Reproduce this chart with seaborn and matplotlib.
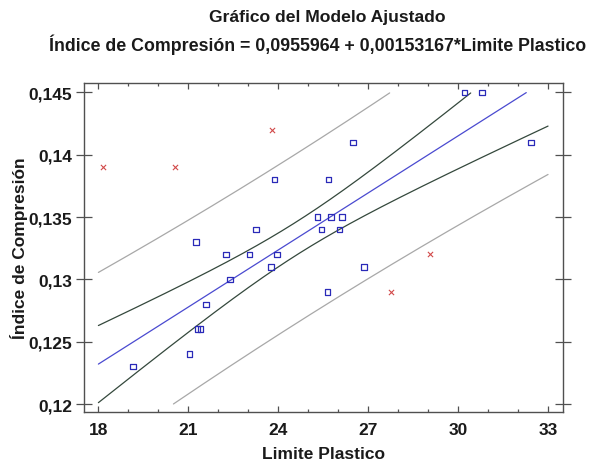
import numpy as np
import pandas as pd
import matplotlib
matplotlib.use("Agg")
import matplotlib.pyplot as plt
import seaborn as sns
from matplotlib.ticker import MultipleLocator, FixedLocator, FixedFormatter

# ---- data ----
limite_plastico = [19.15, 21.04, 21.30, 21.40, 21.59, 21.26, 22.26, 22.39, 23.04, 23.26,
                   23.76, 23.95, 23.87, 25.31, 25.45, 25.65, 25.67, 25.76, 26.04, 26.12,
                   26.49, 26.87, 30.21, 30.79, 32.43]
indice_compresion = [0.123, 0.124, 0.126, 0.126, 0.128, 0.133, 0.132, 0.130, 0.132, 0.134,
                     0.131, 0.132, 0.138, 0.135, 0.134, 0.129, 0.138, 0.135, 0.134, 0.135,
                     0.141, 0.131, 0.145, 0.145, 0.141]
# points excluded from the fit (red crosses)
excl_limite = [18.16, 20.56, 23.79, 27.76, 29.06]
excl_indice = [0.139, 0.139, 0.142, 0.129, 0.132]

x_ticks = [18, 21, 24, 27, 30, 33]
y_ticks = [0.12, 0.125, 0.13, 0.135, 0.14, 0.145]
y_tick_labels = ["0,12", "0,125", "0,13", "0,135", "0,14", "0,145"]
T_CRIT = 2.069  # t(0.975, n-2 = 23)

title_1 = "Gráfico del Modelo Ajustado"
title_2 = "Índice de Compresión = 0,0955964 + 0,00153167*Limite Plastico"

# ---- fit and bands ----
xd = np.array(limite_plastico)
yd = np.array(indice_compresion)
n = len(xd)
slope, intercept = np.polyfit(xd, yd, 1)
resid = yd - (intercept + slope * xd)
s = np.sqrt(np.sum(resid ** 2) / (n - 2))
xbar = xd.mean()
sxx = np.sum((xd - xbar) ** 2)

xg = np.linspace(x_ticks[0], x_ticks[-1], 600)
fit = intercept + slope * xg
conf = T_CRIT * s * np.sqrt(1 / n + (xg - xbar) ** 2 / sxx)
pred = T_CRIT * s * np.sqrt(1 + 1 / n + (xg - xbar) ** 2 / sxx)

ylo, yhi = y_ticks[0], y_ticks[-1]
def clip(v):
    v = v.copy()
    v[(v < ylo - 1e-9) | (v > yhi + 1e-9)] = np.nan
    return v

sns.set_style("ticks")
plt.rcParams['font.family'] = ['Liberation Sans', 'DejaVu Sans']
plt.rcParams['font.weight'] = 'bold'

fig = plt.figure(figsize=(6.03, 4.64), dpi=100)
ax = fig.add_axes([0.1393, 0.1099, 0.9332 - 0.1393, 0.819 - 0.1099])

ax.plot(xg, clip(fit + pred), color="#a8a8a8", lw=0.9)
ax.plot(xg, clip(fit - pred), color="#a8a8a8", lw=0.9)
ax.plot(xg, clip(fit + conf), color="#34483c", lw=0.9)
ax.plot(xg, clip(fit - conf), color="#34483c", lw=0.9)
ax.plot(xg, clip(fit), color="#4a4ad0", lw=0.9)

df = pd.DataFrame({"x": limite_plastico, "y": indice_compresion})
sns.scatterplot(data=df, x="x", y="y", marker="s", s=16, facecolors="none",
                edgecolor="#2a2ab8", linewidth=0.9, ax=ax, zorder=5)
dfe = pd.DataFrame({"x": excl_limite, "y": excl_indice})
sns.scatterplot(data=dfe, x="x", y="y", marker="x", s=14, color="#d24a4a",
                linewidth=0.8, ax=ax, zorder=5)

ax.set_xlim(17.52, 33.49)
ax.set_ylim(0.11936, 0.14576)
ax.xaxis.set_major_locator(FixedLocator(x_ticks))
ax.xaxis.set_minor_locator(MultipleLocator(1))
ax.yaxis.set_major_locator(FixedLocator(y_ticks))
ax.yaxis.set_major_formatter(FixedFormatter(y_tick_labels))
ax.set_xticklabels([str(t) for t in x_ticks])

for sp in ax.spines.values():
    sp.set_visible(True)
    sp.set_color("#505050")
    sp.set_linewidth(1.0)

ax.tick_params(axis="x", which="major", direction="in", length=4.5, width=0.9,
               top=True, bottom=True, color="#505050", labelsize=12.5, pad=7,
               labelcolor="#1a1a1a")
ax.tick_params(axis="x", which="minor", direction="in", length=2.5, width=0.9,
               top=True, bottom=True, color="#505050")
ax.tick_params(axis="y", which="major", direction="inout", length=11, width=0.9,
               left=True, right=True, color="#505050", labelsize=12.5, pad=3,
               labelcolor="#1a1a1a")
for lab in ax.get_xticklabels() + ax.get_yticklabels():
    lab.set_fontweight("bold")

ax.set_xlabel("Limite Plastico", fontsize=12.5, fontweight="bold", color="#1a1a1a", labelpad=7)
ax.set_ylabel("Índice de Compresión", fontsize=12.5, fontweight="bold", color="#1a1a1a")
ax.yaxis.set_label_coords(-0.117, 0.5)

fig.text(0.543, 0.962, title_1, ha="center", va="center", fontsize=12.6, fontweight="bold", color="#1a1a1a")
fig.text(0.527, 0.903, title_2, ha="center", va="center", fontsize=12.8, fontweight="bold", color="#1a1a1a")

fig.savefig("out.png", dpi=100)
